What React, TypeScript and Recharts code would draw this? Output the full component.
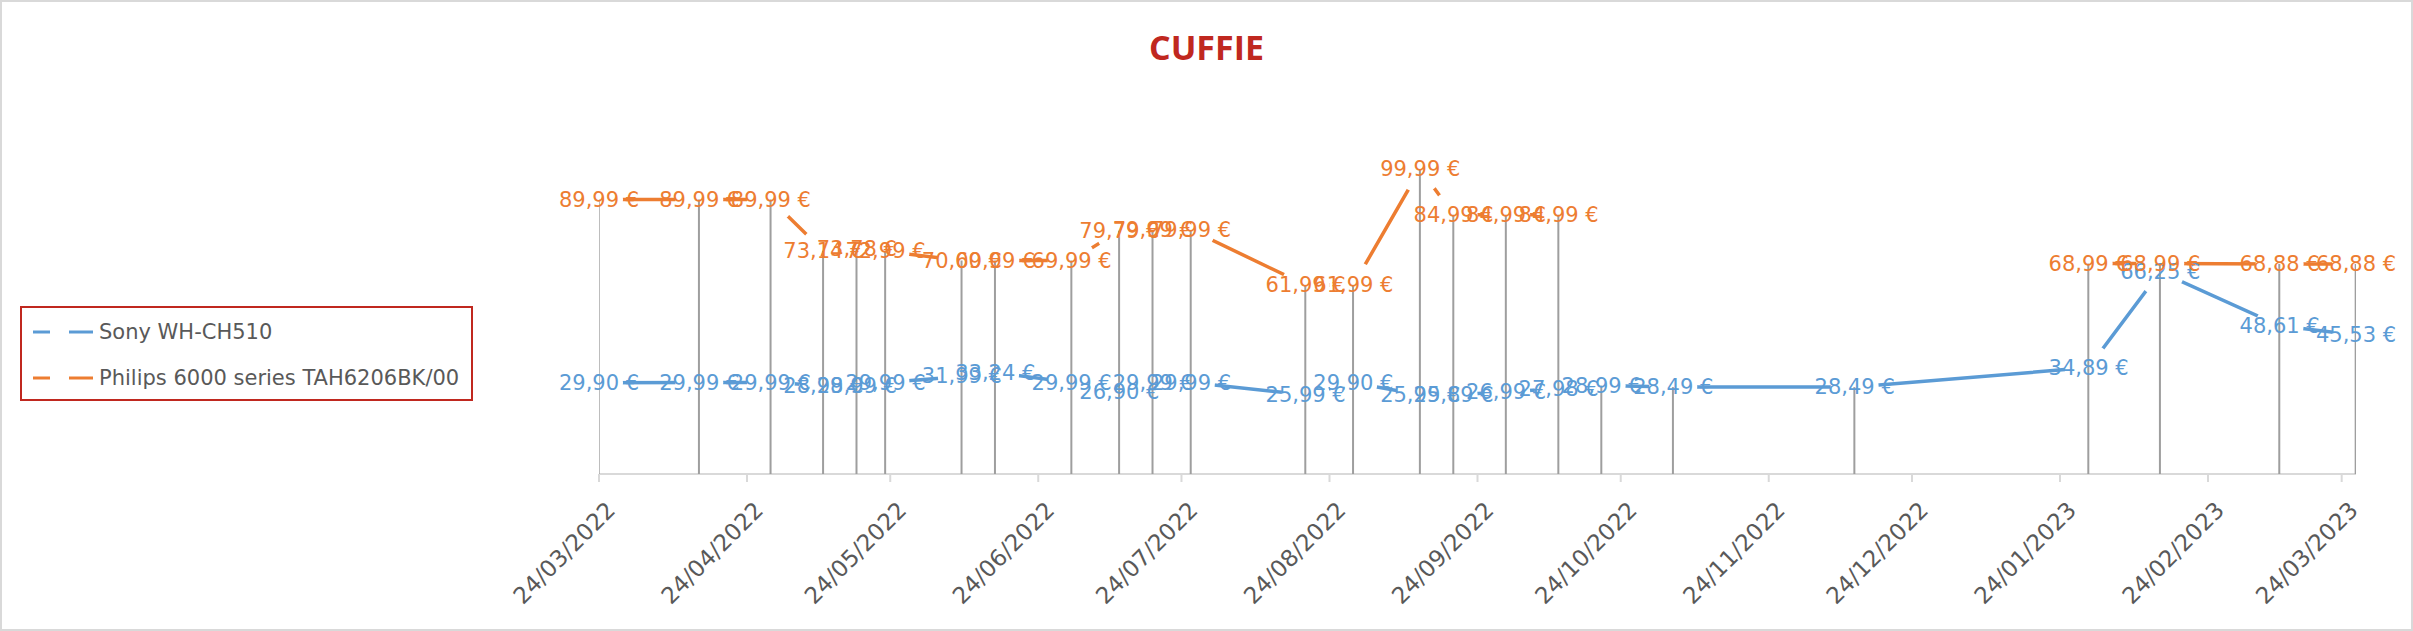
import React from 'react';
import { ComposedChart, Line, Bar, XAxis, YAxis, LabelList } from 'recharts';

// price check dates (dd/mm/yyyy on the axis)
const dates = [
  '2022-03-24', '2022-04-14', '2022-04-29', '2022-05-10', '2022-05-17',
  '2022-05-23', '2022-06-08', '2022-06-15', '2022-07-01', '2022-07-11',
  '2022-07-18', '2022-07-26', '2022-08-19', '2022-08-29', '2022-09-12',
  '2022-09-19', '2022-09-30', '2022-10-11', '2022-10-20', '2022-11-04',
  '2022-12-12', '2023-01-30', '2023-02-14', '2023-03-11', '2023-03-27',
];

const sonyPrices = [
  29.9, 29.99, 29.99, 28.99, 28.99, 29.99, 31.99, 33.24, 29.99, 26.9,
  29.99, 29.99, 25.99, 29.9, 25.99, 25.89, 26.99, 27.98, 28.99, 28.49,
  28.49, 34.89, 66.25, 48.61, 45.53,
];

const philipsPrices = [
  89.99, 89.99, 89.99, 73.14, 73.78, 72.99, 70.0, 69.99, 69.99, 79.79,
  79.99, 79.99, 61.99, 61.99, 99.99, 84.99, 84.99, 84.99, null, null,
  null, 68.99, 68.99, 68.88, 68.88,
];

const tickDates = [
  '2022-03-24', '2022-04-24', '2022-05-24', '2022-06-24', '2022-07-24',
  '2022-08-24', '2022-09-24', '2022-10-24', '2022-11-24', '2022-12-24',
  '2023-01-24', '2023-02-24', '2023-03-24',
];

const SONY = 'Sony WH-CH510';
const PHILIPS = 'Philips 6000 series TAH6206BK/00';
const BLUE = '#5B9BD5';
const ORANGE = '#ED7D31';
const FONT = '"DejaVu Sans", sans-serif';

const toTs = (s: string) => {
  const [y, m, d] = s.split('-').map(Number);
  return Date.UTC(y, m - 1, d);
};

const pad = (n: number) => String(n).padStart(2, '0');

const fmtDate = (ts: number) => {
  const d = new Date(ts);
  return `${pad(d.getUTCDate())}/${pad(d.getUTCMonth() + 1)}/${d.getUTCFullYear()}`;
};

const fmtEuro = (v: number) => v.toFixed(2).replace('.', ',') + ' €';

const data = dates.map((d, i) => {
  const s = sonyPrices[i];
  const p = philipsPrices[i];
  return {
    t: toTs(d),
    sony: s,
    philips: p,
    drop: Math.max(s ?? 0, p ?? 0),
  };
});

const ticks = tickDates.map(toTs);

const DateTick = (props: any) => {
  const { x, y, payload } = props;
  return (
    <g transform={`translate(${x + 12},${y + 22})`}>
      <text
        textAnchor="end"
        dominantBaseline="central"
        transform="rotate(-45)"
        fill="#595959"
        fontSize={23}
        fontFamily={FONT}
      >
        {fmtDate(payload.value)}
      </text>
    </g>
  );
};

const priceLabel = (color: string) => (props: any) => {
  const { x, y, value } = props;
  if (value == null || x == null || y == null) return null;
  return (
    <text
      x={x}
      y={y}
      textAnchor="middle"
      dominantBaseline="central"
      fill={color}
      fontSize={21}
      fontFamily={FONT}
    >
      {fmtEuro(value)}
    </text>
  );
};

const whiteDot = { r: 24, fill: '#ffffff', stroke: 'none' };

function LegendBox() {
  const items = [
    { name: SONY, color: BLUE },
    { name: PHILIPS, color: ORANGE },
  ];
  return (
    <div
      style={{
        position: 'absolute',
        left: 18,
        top: 304,
        width: 453,
        height: 95,
        border: '2px solid #C0281F',
        boxSizing: 'border-box',
        fontFamily: FONT,
        fontSize: 21,
        color: '#595959',
      }}
    >
      {items.map((it, i) => (
        <div
          key={it.name}
          style={{
            position: 'absolute',
            left: 11,
            top: 12 + i * 46,
            height: 24,
            display: 'flex',
            alignItems: 'center',
            whiteSpace: 'nowrap',
          }}
        >
          <svg width={64} height={6} style={{ marginRight: 2 }}>
            <line x1={0} y1={3} x2={17} y2={3} stroke={it.color} strokeWidth={3} />
            <line x1={36} y1={3} x2={60} y2={3} stroke={it.color} strokeWidth={3} />
          </svg>
          <span>{it.name}</span>
        </div>
      ))}
    </div>
  );
}

export default function App() {
  return (
    <div
      style={{
        position: 'absolute',
        left: 0,
        top: 0,
        width: 2413,
        height: 631,
        background: '#ffffff',
        border: '2px solid #D9D9D9',
        boxSizing: 'border-box',
        fontFamily: FONT,
      }}
    >
      <div
        style={{
          position: 'absolute',
          left: 0,
          width: '100%',
          top: 22,
          textAlign: 'center',
          fontFamily: '"Open Sans", sans-serif',
          fontWeight: 700,
          fontSize: 34,
          color: '#C0281F',
        }}
      >
        CUFFIE
      </div>
      <LegendBox />
      <div style={{ position: 'absolute', left: -2, top: -2 }}>
        <ComposedChart
          width={2413}
          height={631}
          data={data}
          margin={{ top: 108, right: 57, left: 599, bottom: 37 }}
        >
          <XAxis
            dataKey="t"
            type="number"
            scale="time"
            domain={[data[0].t, data[data.length - 1].t]}
            ticks={ticks}
            tick={<DateTick />}
            tickSize={8}
            height={120}
            interval={0}
            axisLine={{ stroke: '#D9D9D9', strokeWidth: 2 }}
            tickLine={{ stroke: '#D9D9D9', strokeWidth: 2 }}
            allowDataOverflow
          />
          <YAxis hide domain={[0, 120]} />
          <Line
            dataKey="sony"
            name={SONY}
            type="linear"
            stroke={BLUE}
            strokeWidth={3.5}
            dot={whiteDot}
            activeDot={false}
            isAnimationActive={false}
          />
          <Line
            dataKey="philips"
            name={PHILIPS}
            type="linear"
            stroke={ORANGE}
            strokeWidth={3.5}
            dot={whiteDot}
            activeDot={false}
            isAnimationActive={false}
          />
          <Bar
            dataKey="drop"
            barSize={2}
            fill="#9E9E9E"
            isAnimationActive={false}
            zIndex={1500}
          />
          <Line
            dataKey="sony"
            stroke="none"
            dot={false}
            activeDot={false}
            legendType="none"
            isAnimationActive={false}
          >
            <LabelList dataKey="sony" content={priceLabel(BLUE)} />
          </Line>
          <Line
            dataKey="philips"
            stroke="none"
            dot={false}
            activeDot={false}
            legendType="none"
            isAnimationActive={false}
          >
            <LabelList dataKey="philips" content={priceLabel(ORANGE)} />
          </Line>
        </ComposedChart>
      </div>
    </div>
  );
}
